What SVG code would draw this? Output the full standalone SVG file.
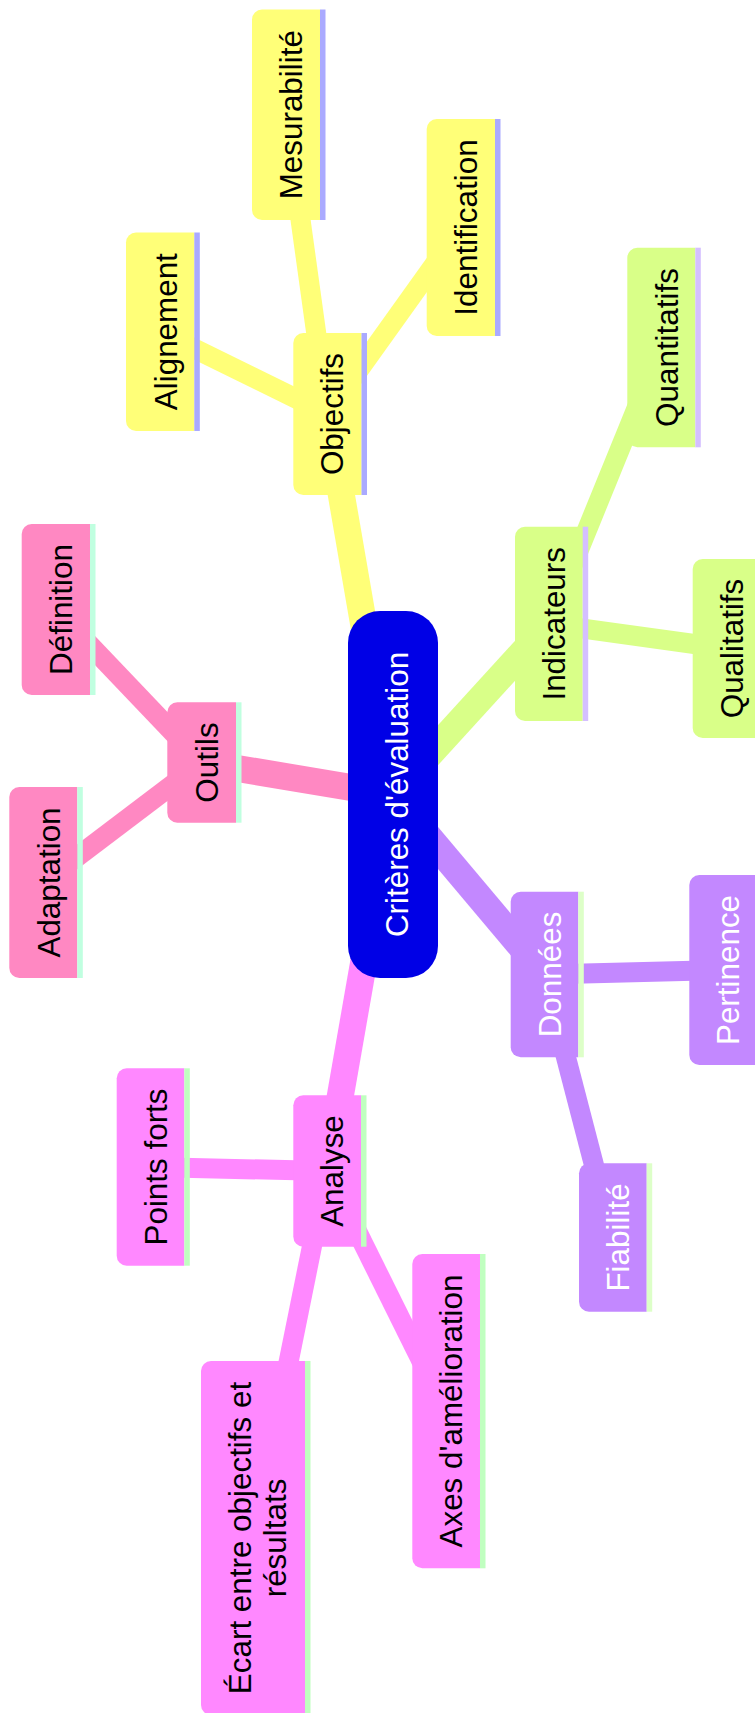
<svg xmlns="http://www.w3.org/2000/svg" width="755" height="1713" viewBox="0 0 755 1713">
<style>
text{font-family:"Liberation Sans",Arial,sans-serif;font-size:31.4px;text-anchor:middle;fill:#000}
.w{fill:#fff}
.l1{stroke-width:27;stroke-linecap:butt;fill:none}
.l2{stroke-width:20;stroke-linecap:butt;fill:none}
.y{fill:#ffff78}.ys{fill:#aaaaff}
.g{fill:#d9ff88}.gs{fill:#d4bfff}
.p{fill:#ff88c2}.ps{fill:#c0ffe0}
.m{fill:#ff88ff}.ms{fill:#c0ffc0}
.v{fill:#c388ff}.vs{fill:#ddffc8}
</style>
<rect width="755" height="1713" fill="#fff"/>
<g id="connectors">
<line class="l1" stroke="#ffff78" x1="393" y1="794.5" x2="327.4" y2="414"/>
<line class="l2" stroke="#ffff78" x1="327.4" y1="414" x2="286" y2="114.7"/>
<line class="l2" stroke="#ffff78" x1="327.4" y1="414" x2="160" y2="331.7"/>
<line class="l2" stroke="#ffff78" x1="327.4" y1="414" x2="460.8" y2="227.5"/>
<line class="l1" stroke="#d9ff88" x1="393" y1="794.5" x2="548.8" y2="623.8"/>
<line class="l2" stroke="#d9ff88" x1="548.8" y1="623.8" x2="661.3" y2="347.5"/>
<line class="l2" stroke="#d9ff88" x1="548.8" y1="623.8" x2="726.7" y2="648.5"/>
<line class="l1" stroke="#c388ff" x1="393" y1="794.5" x2="544.5" y2="974.5"/>
<line class="l2" stroke="#c388ff" x1="544.5" y1="974.5" x2="723" y2="970"/>
<line class="l2" stroke="#c388ff" x1="544.5" y1="974.5" x2="612.8" y2="1237.5"/>
<line class="l1" stroke="#ff88ff" x1="393" y1="794.5" x2="327.2" y2="1171"/>
<line class="l2" stroke="#ff88ff" x1="327.2" y1="1171" x2="150.5" y2="1167"/>
<line class="l2" stroke="#ff88ff" x1="327.2" y1="1171" x2="446.2" y2="1411"/>
<line class="l2" stroke="#ff88ff" x1="327.2" y1="1171" x2="253" y2="1538"/>
<line class="l1" stroke="#ff88c2" x1="393" y1="794.5" x2="201.7" y2="762.5"/>
<line class="l2" stroke="#ff88c2" x1="201.7" y1="762.5" x2="55.9" y2="609.5"/>
<line class="l2" stroke="#ff88c2" x1="201.7" y1="762.5" x2="43.3" y2="882.5"/>
</g>
<g id="center">
<rect x="348" y="611" width="90" height="367" rx="32" fill="#0000e6"/>
<text class="w" transform="translate(408,794.5) rotate(-90)">Critères d'évaluation</text>
</g>
<g id="objectifs">
<path class="y" d="M361.5 333H303.3A10 10 0 0 0 293.3 343V485A10 10 0 0 0 303.3 495H361.5Z"/>
<rect class="ys" x="361.5" y="333" width="5.5" height="162"/>
<text transform="translate(343,414) rotate(-90)">Objectifs</text>
</g>
<g id="mesurabilite">
<path class="y" d="M320 9.5H262A10 10 0 0 0 252 19.5V210A10 10 0 0 0 262 220H320Z"/>
<rect class="ys" x="320" y="9.5" width="5.5" height="210.5"/>
<text transform="translate(302,114.7) rotate(-90)">Mesurabilité</text>
</g>
<g id="alignement">
<path class="y" d="M194.3 232.5H136A10 10 0 0 0 126 242.5V421A10 10 0 0 0 136 431H194.3Z"/>
<rect class="ys" x="194.3" y="232.5" width="5.5" height="198.5"/>
<text transform="translate(176.5,331.7) rotate(-90)">Alignement</text>
</g>
<g id="identification">
<path class="y" d="M495 119H436.7A10 10 0 0 0 426.7 129V326A10 10 0 0 0 436.7 336H495Z"/>
<rect class="ys" x="495" y="119" width="5.5" height="217"/>
<text transform="translate(477,227.5) rotate(-90)">Identification</text>
</g>
<g id="indicateurs">
<path class="g" d="M582.7 526.7H525A10 10 0 0 0 515 536.7V711A10 10 0 0 0 525 721H582.7Z"/>
<rect class="gs" x="582.7" y="526.7" width="5.5" height="194.3"/>
<text transform="translate(565,623.8) rotate(-90)">Indicateurs</text>
</g>
<g id="quantitatifs">
<path class="g" d="M695.3 247.7H637.3A10 10 0 0 0 627.3 257.7V437.3A10 10 0 0 0 637.3 447.3H695.3Z"/>
<rect class="gs" x="695.3" y="247.7" width="5.5" height="199.6"/>
<text transform="translate(677.5,347.5) rotate(-90)">Quantitatifs</text>
</g>
<g id="qualitatifs">
<path class="g" d="M760.7 559H702.7A10 10 0 0 0 692.7 569V728A10 10 0 0 0 702.7 738H760.7Z"/>
<text transform="translate(742.7,648.5) rotate(-90)">Qualitatifs</text>
</g>
<g id="donnees">
<path class="v" d="M578.3 891.7H520.7A10 10 0 0 0 510.7 901.7V1047.3A10 10 0 0 0 520.7 1057.3H578.3Z"/>
<rect class="vs" x="578.3" y="891.7" width="5.5" height="165.6"/>
<text class="w" transform="translate(560.7,974.5) rotate(-90)">Données</text>
</g>
<g id="pertinence">
<path class="v" d="M757 875H699.3A10 10 0 0 0 689.3 885V1055A10 10 0 0 0 699.3 1065H757Z"/>
<text class="w" transform="translate(739.3,970) rotate(-90)">Pertinence</text>
</g>
<g id="fiabilite">
<path class="v" d="M646.7 1163.3H589A10 10 0 0 0 579 1173.3V1301.7A10 10 0 0 0 589 1311.7H646.7Z"/>
<rect class="vs" x="646.7" y="1163.3" width="5.5" height="148.4"/>
<text class="w" transform="translate(629,1237.5) rotate(-90)">Fiabilité</text>
</g>
<g id="analyse">
<path class="m" d="M361 1095.3H303.3A10 10 0 0 0 293.3 1105.3V1236.7A10 10 0 0 0 303.3 1246.7H361Z"/>
<rect class="ms" x="361" y="1095.3" width="5.5" height="151.4"/>
<text transform="translate(343.3,1171) rotate(-90)">Analyse</text>
</g>
<g id="points-forts">
<path class="m" d="M184.3 1068.3H126.7A10 10 0 0 0 116.7 1078.3V1255.7A10 10 0 0 0 126.7 1265.7H184.3Z"/>
<rect class="ms" x="184.3" y="1068.3" width="5.5" height="197.4"/>
<text transform="translate(166.7,1167) rotate(-90)">Points forts</text>
</g>
<g id="axes">
<path class="m" d="M480 1254H422.3A10 10 0 0 0 412.3 1264V1558.3A10 10 0 0 0 422.3 1568.3H480Z"/>
<rect class="ms" x="480" y="1254" width="5.5" height="314.3"/>
<text transform="translate(462.3,1411) rotate(-90)">Axes d'amélioration</text>
</g>
<g id="ecart">
<path class="m" d="M305 1361H211A10 10 0 0 0 201 1371V1705A10 10 0 0 0 211 1715H305Z"/>
<rect class="ms" x="305" y="1361" width="5.5" height="354"/>
<text transform="translate(250.7,1538) rotate(-90)">Écart entre objectifs et</text>
<text transform="translate(286,1538) rotate(-90)">résultats</text>
</g>
<g id="outils">
<path class="p" d="M236 702.3H177.3A10 10 0 0 0 167.3 712.3V812.7A10 10 0 0 0 177.3 822.7H236Z"/>
<rect class="ps" x="236" y="702.3" width="5.5" height="120.4"/>
<text transform="translate(218,762.5) rotate(-90)">Outils</text>
</g>
<g id="definition">
<path class="p" d="M90 524H31.7A10 10 0 0 0 21.7 534V685A10 10 0 0 0 31.7 695H90Z"/>
<rect class="ps" x="90" y="524" width="5.5" height="171"/>
<text transform="translate(72,609.5) rotate(-90)">Définition</text>
</g>
<g id="adaptation">
<path class="p" d="M77.3 787H19.3A10 10 0 0 0 9.3 797V968A10 10 0 0 0 19.3 978H77.3Z"/>
<rect class="ps" x="77.3" y="787" width="5.5" height="191"/>
<text transform="translate(59.5,882.5) rotate(-90)">Adaptation</text>
</g>
</svg>
